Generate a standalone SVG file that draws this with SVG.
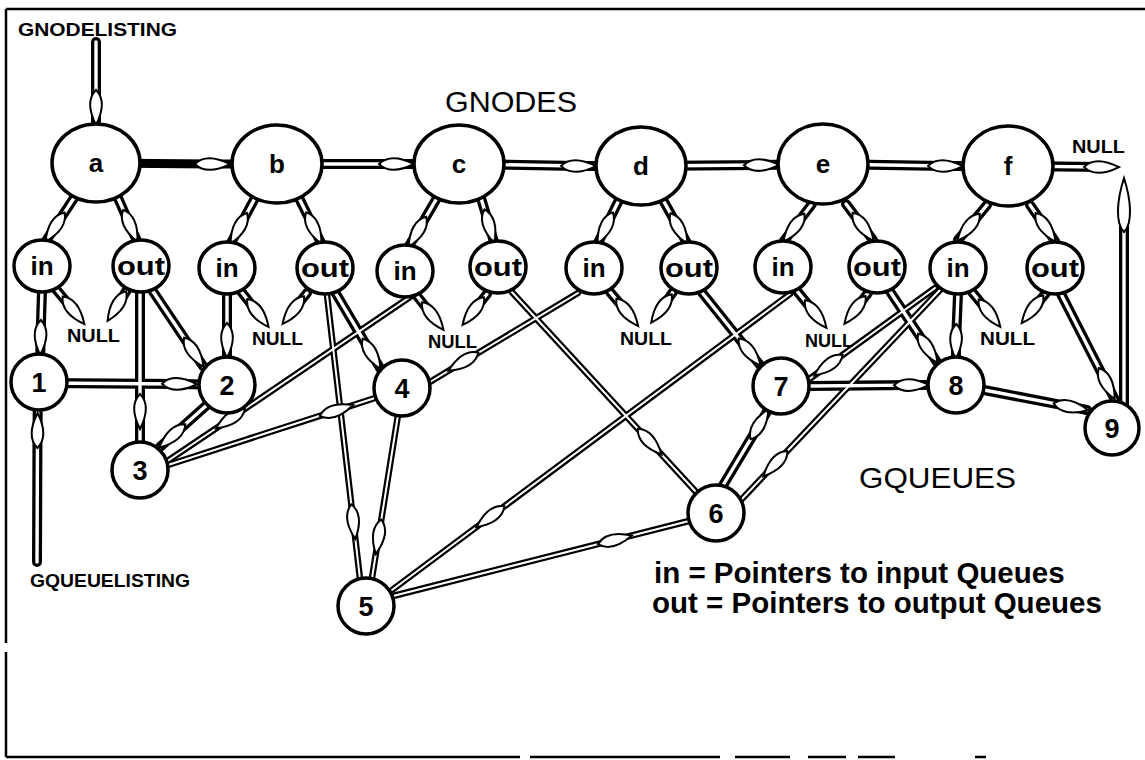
<svg xmlns="http://www.w3.org/2000/svg" width="1145" height="760" viewBox="0 0 1145 760">
<style>
.k use{fill:none;stroke:#000;stroke-width:10;stroke-linecap:round;stroke-linejoin:round}
.w use{fill:none;stroke:#fff;stroke-width:3.4;stroke-linecap:round;stroke-linejoin:round;marker-mid:url(#h)}
.kt use{fill:none;stroke:#000;stroke-width:6.5;stroke-linecap:round;stroke-linejoin:round}
.wt use{fill:none;stroke:#fff;stroke-width:2;stroke-linecap:round;stroke-linejoin:round;marker-mid:url(#h)}
.n ellipse,.n circle{fill:#fff;stroke:#000;stroke-width:3.5}
.t{font-family:"Liberation Sans",Arial,Helvetica,sans-serif;font-weight:bold;fill:#000}
.c{text-anchor:middle}
.big{font-size:26px}
.num{font-size:27px}
.nul{font-size:18px}
.hd{font-family:"Liberation Sans",Arial,Helvetica,sans-serif;font-size:29px;fill:#000}
.leg{font-size:29.5px}
</style>
<defs>
<marker id="h" markerUnits="userSpaceOnUse" orient="auto" viewBox="-30 -15 60 30" markerWidth="60" markerHeight="30" refX="0" refY="0">
<path d="M-18,0 C-10,-8 3,-7 17,0 C3,7 -10,8 -18,0Z" fill="#fff" stroke="#000" stroke-width="2"/>
</marker>
<marker id="hL" markerUnits="userSpaceOnUse" orient="auto" viewBox="-40 -15 80 30" markerWidth="80" markerHeight="30" refX="0" refY="0">
<path d="M-27,0 C-18,-9 5,-7 27,0 C5,7 -18,9 -27,0Z" fill="#fff" stroke="#000" stroke-width="2"/>
</marker>
<path id="c_gl" d="M96,42 L96,108 L96,140"/>
<path id="c_bc" d="M277,164 L397,164 L459,164"/>
<path id="c_cd" d="M459,164 L579,166 L641,166"/>
<path id="c_de" d="M641,166 L762,165 L823,164"/>
<path id="c_ef" d="M823,164 L946,166 L1008,166"/>
<path id="c_fn" d="M1008,166 L1102,167 L1103,167"/>
<path id="c_aI" d="M74,198 L54.7,227.6 L46,241"/>
<path id="c_aO" d="M118,198 L130.5,226.4 L137,241"/>
<path id="c_bI" d="M255,198 L238.5,228.9 L231,243"/>
<path id="c_bO" d="M299,198 L314,228.6 L321,243"/>
<path id="c_cI" d="M437,198 L417.1,232.2 L409,246"/>
<path id="c_cO" d="M481,198 L489.5,226.7 L494,242"/>
<path id="c_dI" d="M619,200 L605,228.6 L598,243"/>
<path id="c_dO" d="M663,200 L679.2,229 L687,243"/>
<path id="c_eI" d="M812,204 L793.6,228.2 L784,241"/>
<path id="c_eO" d="M846,204 L863.4,227.2 L873,240"/>
<path id="c_fI" d="M987,205 L968.2,227.7 L958,240"/>
<path id="c_fO" d="M1030,205 L1045.9,227.8 L1055,241"/>
<path id="n_aI" d="M55,288 L73.8,310.7 L74.4,311.5"/>
<path id="n_aO" d="M127,290 L116.6,306.5 L116.1,307.3"/>
<path id="n_bI" d="M240,290 L258.2,313.4 L258.8,314.2"/>
<path id="n_bO" d="M307,293 L293,310.5 L292.4,311.3"/>
<path id="n_cI" d="M417,296 L433.1,316.4 L433.7,317.2"/>
<path id="n_cO" d="M487,294 L473,311.5 L472.4,312.3"/>
<path id="n_dI" d="M610,292 L627.6,312.8 L628.2,313.6"/>
<path id="n_dO" d="M673,292 L661.2,308.9 L660.6,309.7"/>
<path id="n_eI" d="M797,291 L816,314.5 L816.6,315.3"/>
<path id="n_eO" d="M868,293 L854.7,310.3 L854.1,311.1"/>
<path id="n_fI" d="M972,292 L989.8,313.6 L990.4,314.4"/>
<path id="n_fO" d="M1046,293 L1032.2,309.7 L1031.6,310.5"/>
<path id="q_aI1" d="M42,290 L40.5,338 L40,382"/>
<path id="q_aO2" d="M152,290 L194.1,352.7 L203,366"/>
<path id="q_aO3" d="M140,293 L140,412 L140,470"/>
<path id="q_bI2" d="M227,294 L227,341 L227,385"/>
<path id="q_bO4" d="M335,292 L371.8,354.2 L380,368"/>
<path id="q_12" d="M39,383 L180,384 L227,385"/>
<path id="q_23" d="M208,404 L171.9,436.3 L160,447"/>
<path id="q_dO7" d="M700,290 L750,352.5 L760,365"/>
<path id="q_eO8" d="M889,290 L928.1,348.7 L937,362"/>
<path id="q_fI8" d="M958,294 L956,342 L956,385"/>
<path id="q_67" d="M722,487 L759.8,423.7 L768,410"/>
<path id="q_78" d="M809,386 L912,385.1 L928,385"/>
<path id="q_89" d="M984,390 L1071.3,406.9 L1087,410"/>
<path id="q_fO9" d="M1060,292 L1107,384 L1116,402"/>
<path id="q_9up" d="M1124,410 L1124,205 L1124,204"/>
<path id="q_GQ1" d="M37,562 L37.5,430 L38,382"/>
<path id="q_bO5" d="M327,295 L353.4,522.2 L360,579"/>
<path id="q_45" d="M398,415 L378.5,537.3 L372,578"/>
<path id="q_cI3" d="M410,297 L230,419 L166,462"/>
<path id="q_34" d="M168,465 L337,410.3 L375,398"/>
<path id="q_dI4" d="M578,293 L463,362 L430,382"/>
<path id="q_eI5" d="M790,294 L490,517 L392,590"/>
<path id="q_cO6" d="M510,290 L650,442 L697,493"/>
<path id="q_fI7" d="M935,288 L828,365.5 L808,380"/>
<path id="q_fI6" d="M940,290 L775,464 L741,500"/>
<path id="q_56" d="M393,596 L615.4,539.7 L689,521"/>
</defs>

<g id="frame" fill="none" stroke="#000" stroke-width="2.5">
<path d="M6,9 H1145 M6,9 V643 M6,652 V757 M6,757 H520 M530,757 H720 M735,757 H790 M808,757 H846 M858,757 H895 M975,757 H986"/>
</g>

<g id="connectors">
<g class="kt">
<use href="#q_bO5"/><use href="#q_45"/><use href="#q_cI3"/><use href="#q_34"/><use href="#q_dI4"/>
<use href="#q_eI5"/><use href="#q_cO6"/><use href="#q_fI7"/><use href="#q_fI6"/><use href="#q_56"/>
</g>
<g class="k">
<use href="#c_gl"/><use href="#c_bc"/><use href="#c_cd"/><use href="#c_de"/><use href="#c_ef"/><use href="#c_fn"/>
<use href="#c_aI"/><use href="#c_aO"/><use href="#c_bI"/><use href="#c_bO"/><use href="#c_cI"/><use href="#c_cO"/>
<use href="#c_dI"/><use href="#c_dO"/><use href="#c_eI"/><use href="#c_eO"/><use href="#c_fI"/><use href="#c_fO"/>
<use href="#n_aI"/><use href="#n_aO"/><use href="#n_bI"/><use href="#n_bO"/><use href="#n_cI"/><use href="#n_cO"/>
<use href="#n_dI"/><use href="#n_dO"/><use href="#n_eI"/><use href="#n_eO"/><use href="#n_fI"/><use href="#n_fO"/>
<use href="#q_aI1"/><use href="#q_aO2"/><use href="#q_aO3"/><use href="#q_bI2"/><use href="#q_bO4"/><use href="#q_12"/>
<use href="#q_23"/><use href="#q_dO7"/><use href="#q_eO8"/><use href="#q_fI8"/><use href="#q_67"/><use href="#q_78"/>
<use href="#q_89"/><use href="#q_fO9"/><use href="#q_9up"/><use href="#q_GQ1"/>
</g>
<path id="c_ab" d="M96,163 L213,164 L277,164" fill="none" stroke="#000" stroke-width="9" marker-mid="url(#h)"/>
<g class="wt">
<use href="#q_bO5"/><use href="#q_45"/><use href="#q_cI3"/><use href="#q_34"/><use href="#q_dI4"/>
<use href="#q_eI5"/><use href="#q_cO6"/><use href="#q_fI7"/><use href="#q_fI6"/><use href="#q_56"/>
</g>
<g class="w">
<use href="#c_gl"/><use href="#c_bc"/><use href="#c_cd"/><use href="#c_de"/><use href="#c_ef"/><use href="#c_fn"/>
<use href="#c_aI"/><use href="#c_aO"/><use href="#c_bI"/><use href="#c_bO"/><use href="#c_cI"/><use href="#c_cO"/>
<use href="#c_dI"/><use href="#c_dO"/><use href="#c_eI"/><use href="#c_eO"/><use href="#c_fI"/><use href="#c_fO"/>
<use href="#n_aI"/><use href="#n_aO"/><use href="#n_bI"/><use href="#n_bO"/><use href="#n_cI"/><use href="#n_cO"/>
<use href="#n_dI"/><use href="#n_dO"/><use href="#n_eI"/><use href="#n_eO"/><use href="#n_fI"/><use href="#n_fO"/>
<use href="#q_aI1"/><use href="#q_aO2"/><use href="#q_aO3"/><use href="#q_bI2"/><use href="#q_bO4"/><use href="#q_12"/>
<use href="#q_23"/><use href="#q_dO7"/><use href="#q_eO8"/><use href="#q_fI8"/><use href="#q_67"/><use href="#q_78"/>
<use href="#q_89"/><use href="#q_fO9"/><use href="#q_GQ1"/>
<use href="#q_9up" style="marker-mid:url(#hL)"/>
</g>
</g>

<g id="gnodes">
<g id="node-a" class="n"><ellipse cx="96" cy="163" rx="44" ry="39"/><text class="t c big" x="96" y="172">a</text></g>
<g id="node-b" class="n"><ellipse cx="277" cy="164" rx="45" ry="39"/><text class="t c big" x="277" y="173">b</text></g>
<g id="node-c" class="n"><ellipse cx="459" cy="164" rx="45" ry="39"/><text class="t c big" x="459" y="173">c</text></g>
<g id="node-d" class="n"><ellipse cx="641" cy="166" rx="45" ry="39"/><text class="t c big" x="641" y="175">d</text></g>
<g id="node-e" class="n"><ellipse cx="823" cy="164" rx="45" ry="40"/><text class="t c big" x="823" y="173">e</text></g>
<g id="node-f" class="n"><ellipse cx="1008" cy="166" rx="45" ry="40"/><text class="t c big" x="1008" y="175">f</text></g>
</g>

<g id="ptrs">
<g id="a-in" class="n"><ellipse cx="42" cy="266" rx="28" ry="26"/><text class="t c big" x="42" y="275">in</text></g>
<g id="a-out" class="n"><ellipse cx="141" cy="266" rx="28" ry="26"/><text class="t c big" x="141" y="275" textLength="48" lengthAdjust="spacingAndGlyphs">out</text></g>
<g id="b-in" class="n"><ellipse cx="227" cy="268" rx="28" ry="26"/><text class="t c big" x="227" y="277">in</text></g>
<g id="b-out" class="n"><ellipse cx="325" cy="268" rx="28" ry="26"/><text class="t c big" x="325" y="277" textLength="48" lengthAdjust="spacingAndGlyphs">out</text></g>
<g id="c-in" class="n"><ellipse cx="405" cy="271" rx="28" ry="26"/><text class="t c big" x="405" y="280">in</text></g>
<g id="c-out" class="n"><ellipse cx="498" cy="267" rx="28" ry="26"/><text class="t c big" x="498" y="276" textLength="48" lengthAdjust="spacingAndGlyphs">out</text></g>
<g id="d-in" class="n"><ellipse cx="594" cy="268" rx="28" ry="26"/><text class="t c big" x="594" y="277">in</text></g>
<g id="d-out" class="n"><ellipse cx="689" cy="268" rx="28" ry="26"/><text class="t c big" x="689" y="277" textLength="48" lengthAdjust="spacingAndGlyphs">out</text></g>
<g id="e-in" class="n"><ellipse cx="783" cy="267" rx="28" ry="26"/><text class="t c big" x="783" y="276">in</text></g>
<g id="e-out" class="n"><ellipse cx="877" cy="267" rx="28" ry="26"/><text class="t c big" x="877" y="276" textLength="48" lengthAdjust="spacingAndGlyphs">out</text></g>
<g id="f-in" class="n"><ellipse cx="958" cy="268" rx="28" ry="26"/><text class="t c big" x="958" y="277">in</text></g>
<g id="f-out" class="n"><ellipse cx="1055" cy="268" rx="28" ry="26"/><text class="t c big" x="1055" y="277" textLength="48" lengthAdjust="spacingAndGlyphs">out</text></g>
</g>

<g id="queues">
<g id="q1" class="n"><circle cx="39" cy="382" r="28"/><text class="t c num" x="39" y="392">1</text></g>
<g id="q2" class="n"><circle cx="227" cy="385" r="28"/><text class="t c num" x="227" y="395">2</text></g>
<g id="q3" class="n"><circle cx="140" cy="470" r="28"/><text class="t c num" x="140" y="480">3</text></g>
<g id="q4" class="n"><circle cx="402" cy="388" r="28"/><text class="t c num" x="402" y="398">4</text></g>
<g id="q5" class="n"><circle cx="366" cy="606" r="28"/><text class="t c num" x="366" y="616">5</text></g>
<g id="q6" class="n"><circle cx="716" cy="513" r="28"/><text class="t c num" x="716" y="523">6</text></g>
<g id="q7" class="n"><circle cx="781" cy="386" r="28"/><text class="t c num" x="781" y="396">7</text></g>
<g id="q8" class="n"><circle cx="956" cy="385" r="28"/><text class="t c num" x="956" y="395">8</text></g>
<g id="q9" class="n"><circle cx="1112" cy="428" r="27"/><text class="t c num" x="1112" y="438">9</text></g>
</g>

<g id="labels">
<text class="t" x="18" y="36" font-size="19" textLength="159" lengthAdjust="spacingAndGlyphs">GNODELISTING</text>
<text class="hd" x="445" y="112" textLength="132" lengthAdjust="spacingAndGlyphs">GNODES</text>
<text class="t nul" x="67" y="342" textLength="53" lengthAdjust="spacingAndGlyphs">NULL</text>
<text class="t nul" x="252" y="345" textLength="51" lengthAdjust="spacingAndGlyphs">NULL</text>
<text class="t nul" x="428" y="348" textLength="49" lengthAdjust="spacingAndGlyphs">NULL</text>
<text class="t nul" x="620" y="345" textLength="52" lengthAdjust="spacingAndGlyphs">NULL</text>
<text class="t nul" x="805" y="347" textLength="48" lengthAdjust="spacingAndGlyphs">NULL</text>
<text class="t nul" x="980" y="345" textLength="55" lengthAdjust="spacingAndGlyphs">NULL</text>
<text class="t nul" x="1072" y="153" textLength="53" lengthAdjust="spacingAndGlyphs">NULL</text>
<text class="t" x="30" y="587" font-size="18" textLength="160" lengthAdjust="spacingAndGlyphs">GQUEUELISTING</text>
<text class="hd" x="859" y="488" textLength="157" lengthAdjust="spacingAndGlyphs">GQUEUES</text>
<text class="t leg" x="654" y="583">in = Pointers to input Queues</text>
<text class="t leg" x="652" y="613">out = Pointers to output Queues</text>
</g>
</svg>
